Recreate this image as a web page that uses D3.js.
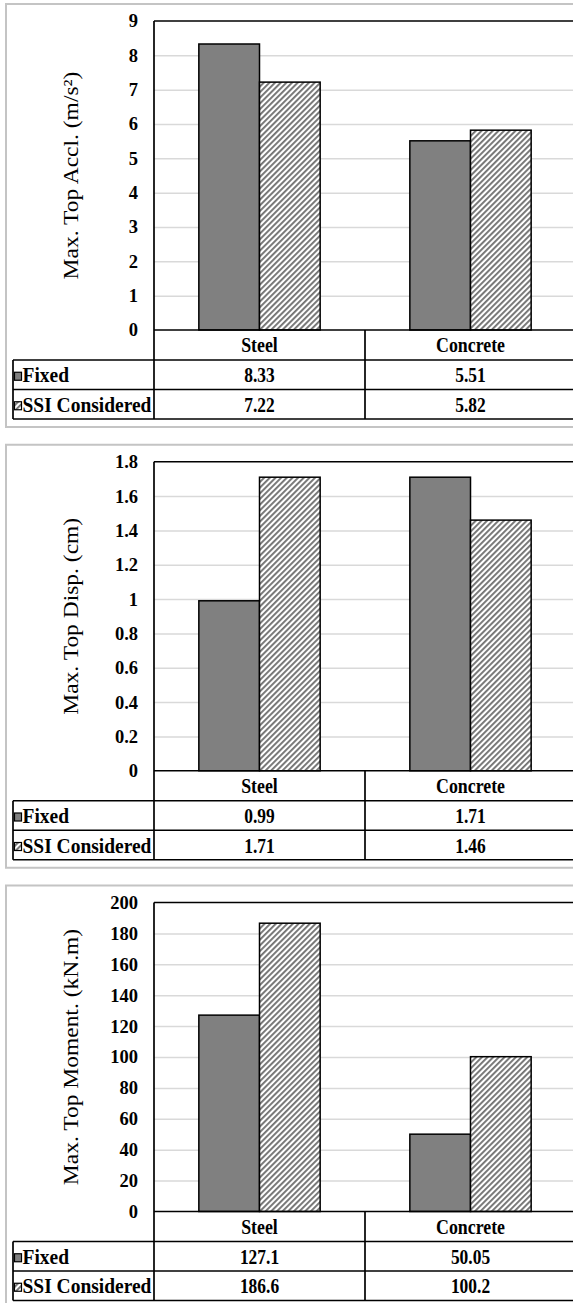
<!DOCTYPE html>
<html>
<head>
<meta charset="utf-8">
<script src="https://cdn.jsdelivr.net/npm/d3@7/dist/d3.min.js"></script>
<style>
  html, body { margin: 0; padding: 0; background: #fff; }
  svg { display: block; }
  svg text { font-family: "Liberation Serif", "Times New Roman", serif; fill: #000; }
</style>
</head>
<body>
<div id="chart"></div>
<script>
// Shared categories and series
const categories = ["Steel", "Concrete"];
const seriesNames = ["Fixed", "SSI Considered"];

// Maximum top acceleration (m/s²)
const accelFixed = [8.33, 5.51];
const accelSSI = [7.22, 5.82];
const accelTicks = [0, 1, 2, 3, 4, 5, 6, 7, 8, 9];
const accelTickLabels = ["0", "1", "2", "3", "4", "5", "6", "7", "8", "9"];

// Maximum top displacement (cm)
const dispFixed = [0.99, 1.71];
const dispSSI = [1.71, 1.46];
const dispTicks = [0, 0.2, 0.4, 0.6, 0.8, 1.0, 1.2, 1.4, 1.6, 1.8];
const dispTickLabels = ["0", "0.2", "0.4", "0.6", "0.8", "1", "1.2", "1.4", "1.6", "1.8"];

// Maximum top moment (kN.m)
const momentFixed = [127.1, 50.05];
const momentSSI = [186.6, 100.2];
const momentTicks = [0, 20, 40, 60, 80, 100, 120, 140, 160, 180, 200];
const momentTickLabels = ["0", "20", "40", "60", "80", "100", "120", "140", "160", "180", "200"];

const W = 573, H = 1303;
const svg = d3.select("#chart").append("svg")
  .attr("width", W).attr("height", H)
  .style("font-family", "'Liberation Serif', 'Times New Roman', serif");

// Diagonal hatch used for the SSI series
const defs = svg.append("defs");
defs.append("pattern")
  .attr("id", "hatch")
  .attr("patternUnits", "userSpaceOnUse")
  .attr("width", 4).attr("height", 4)
  .attr("patternTransform", "rotate(45)")
  .call(p => {
    p.append("rect").attr("width", 4).attr("height", 4).attr("fill", "#fff");
    p.append("rect").attr("x", 0).attr("width", 1.9).attr("height", 4).attr("fill", "#737373");
  });

const seriesFill = ["#808080", "url(#hatch)"];

const panels = [
  { title: "Max. Top Accl. (m/s²)", values: [accelFixed, accelSSI], ticks: accelTicks, tickLabels: accelTickLabels },
  { title: "Max. Top Disp. (cm)", values: [dispFixed, dispSSI], ticks: dispTicks, tickLabels: dispTickLabels },
  { title: "Max. Top Moment. (kN.m)", values: [momentFixed, momentSSI], ticks: momentTicks, tickLabels: momentTickLabels }
];

// Panel layout (local coordinates)
const panelStep = 440.75;
const frame = { x: 6, y: 4, bottom: 427 };
const plot = { left: 154, right: 576, top: 21, bottom: 330 };
const table = { left: 13, header: 360, row1: 389.5, row2: 419 };

// Condensed bold text placed at an anchor point
function cellText(sel, x, y, sx) {
  return sel
    .attr("transform", `translate(${x},${y}) scale(${sx},1)`)
    .attr("dominant-baseline", "central")
    .attr("font-weight", "bold");
}

panels.forEach((cfg, pi) => {
  const g = svg.append("g").attr("transform", `translate(0,${pi * panelStep})`);

  // Outer frame
  g.append("rect")
    .attr("x", frame.x).attr("y", frame.y)
    .attr("width", W + 20).attr("height", frame.bottom - frame.y)
    .attr("fill", "none").attr("stroke", "#c4c4c4").attr("stroke-width", 2);

  const y = d3.scaleLinear()
    .domain([0, cfg.ticks[cfg.ticks.length - 1]])
    .range([plot.bottom, plot.top]);

  const x = d3.scaleBand()
    .domain(categories)
    .range([plot.left, plot.right])
    .paddingInner(0.425)
    .paddingOuter(0.2125);

  const xs = d3.scaleBand()
    .domain(seriesNames)
    .range([0, x.bandwidth()]);

  const colStart = c => x(c) - x.step() * x.paddingInner() / 2;

  // Gridlines
  const gridAxis = d3.axisLeft(y)
    .tickValues(cfg.ticks.slice(1, -1))
    .tickSize(-(plot.right - plot.left))
    .tickFormat("");
  g.append("g")
    .attr("transform", `translate(${plot.left},0)`)
    .call(gridAxis)
    .call(a => a.select(".domain").remove())
    .call(a => a.selectAll("line").attr("stroke", "#d9d9d9").attr("stroke-width", 1.5));

  // Tick labels
  const labelAxis = d3.axisLeft(y)
    .tickValues(cfg.ticks)
    .tickSize(0)
    .tickPadding(16)
    .tickFormat((d, i) => cfg.tickLabels[i]);
  g.append("g")
    .attr("transform", `translate(${plot.left},0)`)
    .call(labelAxis)
    .attr("font-family", null)
    .call(a => a.select(".domain").remove())
    .call(a => a.selectAll("text")
      .attr("font-size", 18.5).attr("font-weight", "bold").attr("fill", "#000"));

  // Bars
  cfg.values.forEach((vals, si) => {
    g.append("g").selectAll("rect")
      .data(categories.map((c, ci) => ({ c, v: vals[ci] })))
      .join("rect")
      .attr("x", d => x(d.c) + xs(seriesNames[si]))
      .attr("y", d => y(d.v))
      .attr("width", xs.bandwidth())
      .attr("height", d => y(0) - y(d.v))
      .attr("fill", seriesFill[si])
      .attr("stroke", "#000").attr("stroke-width", 1.5);
  });

  // Plot border top and left axis
  const lines = g.append("g").attr("stroke", "#000").attr("stroke-width", 1.7).attr("fill", "none");
  lines.append("line").attr("x1", plot.left).attr("x2", W + 10).attr("y1", plot.top).attr("y2", plot.top);
  lines.append("line").attr("x1", plot.left).attr("x2", plot.left).attr("y1", plot.top).attr("y2", table.row2);

  // Data table grid
  lines.append("line").attr("x1", plot.left).attr("x2", W + 10).attr("y1", plot.bottom).attr("y2", plot.bottom);
  [table.header, table.row1, table.row2].forEach(yy =>
    lines.append("line").attr("x1", table.left).attr("x2", W + 10).attr("y1", yy).attr("y2", yy));
  lines.append("line").attr("x1", table.left).attr("x2", table.left).attr("y1", table.header).attr("y2", table.row2);
  categories.slice(1).forEach(c =>
    lines.append("line").attr("x1", colStart(c)).attr("x2", colStart(c)).attr("y1", plot.bottom).attr("y2", table.row2));

  // Category header cells
  g.append("g").selectAll("text")
    .data(categories)
    .join("text")
    .each(function (d) {
      cellText(d3.select(this), x(d) + x.bandwidth() / 2, (plot.bottom + table.header) / 2 + 0.5, 0.87);
    })
    .attr("text-anchor", "middle")
    .attr("font-size", 20.5)
    .text(d => d);

  // Series rows: legend key, name, values
  const rowMid = [(table.header + table.row1) / 2, (table.row1 + table.row2) / 2];
  seriesNames.forEach((s, si) => {
    const ry = rowMid[si] + 0.5;
    g.append("rect")
      .attr("x", 14.5).attr("y", ry - 3)
      .attr("width", 7).attr("height", 8)
      .attr("fill", seriesFill[si]).attr("stroke", "#000").attr("stroke-width", 1.2);
    g.append("text")
      .call(t => cellText(t, 22.5, ry, 0.95))
      .attr("font-size", 20.5)
      .text(s);
    g.append("g").selectAll("text")
      .data(categories.map((c, ci) => ({ c, v: cfg.values[si][ci] })))
      .join("text")
      .each(function (d) {
        cellText(d3.select(this), x(d.c) + x.bandwidth() / 2, ry, 0.85);
      })
      .attr("text-anchor", "middle")
      .attr("font-size", 20.5)
      .text(d => String(d.v));
  });

  // Axis title
  g.append("text")
    .attr("transform", `translate(71,${(plot.top + plot.bottom) / 2}) rotate(-90) scale(1,0.9)`)
    .attr("text-anchor", "middle").attr("dominant-baseline", "central")
    .attr("font-size", 23.5)
    .text(cfg.title);
});
</script>
</body>
</html>
